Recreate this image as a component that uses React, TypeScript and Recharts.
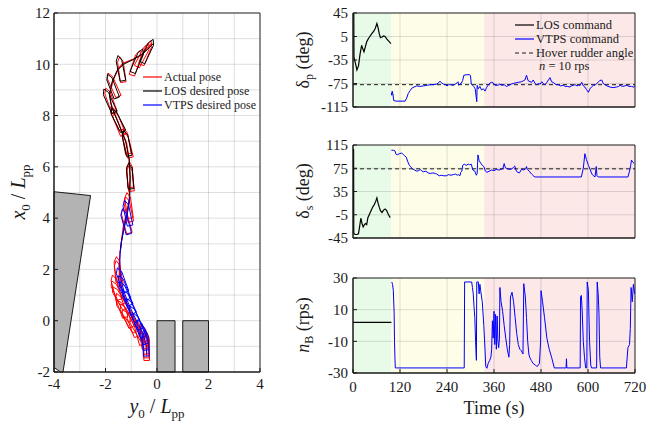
import React from 'react';
import { ComposedChart, Line, XAxis, YAxis, CartesianGrid, ReferenceArea, ReferenceLine } from 'recharts';

type Pt = [number, number];
type Pose = [number, number, number]; // y0/Lpp, x0/Lpp, heading (deg)

const FONT = '"Liberation Serif", "Times New Roman", serif';

// ---------- left: trajectory ----------
const losPoses: Pose[] = [
  [-0.36, 10.52, 25], [-0.75, 10.14, 23], [-1.42, 9.85, -11], [-1.74, 9.15, -21],
  [-1.86, 8.58, -24], [-1.54, 7.83, -27], [-1.18, 6.92, -12], [-1.05, 5.64, -5],
];
const actualPoses: Pose[] = [
  [-0.42, 10.45, 22], [-0.55, 10.35, 28], [-0.82, 10.05, 18], [-1.38, 9.8, -8], [-1.7, 9.2, -24],
  [-1.82, 8.6, -20], [-1.58, 7.9, -25], [-1.5, 7.7, -22], [-1.2, 7.0, -10], [-1.15, 6.85, -14],
  [-1.05, 5.7, -3], [-1.04, 5.55, -6], [-1.1, 4.5, -8], [-1.12, 4.35, -12], [-1.2, 3.9, -15],
  [-1.53, 2.0, -5], [-1.5, 1.85, -10], [-1.6, 1.3, -15], [-1.55, 1.1, -25], [-1.48, 0.9, -30],
  [-1.4, 0.6, -20], [-1.3, 0.4, -35], [-1.2, 0.2, -25], [-1.1, 0.0, -30], [-0.95, -0.15, -20],
  [-0.8, -0.3, -30], [-0.7, -0.45, -15], [-0.55, -0.6, -10], [-0.45, -0.8, -5], [-0.42, -0.95, 0],
  [-0.4, -1.05, 0],
];
const vtpsPoses: Pose[] = [
  [-1.15, 4.2, -12], [-1.22, 3.86, -15], [-1.37, 1.59, -20], [-1.3, 1.3, -22], [-1.24, 1.07, -25],
  [-1.11, 0.74, -25], [-0.98, 0.42, -25], [-0.85, 0.13, -25], [-0.73, -0.17, -22], [-0.59, -0.43, -18],
  [-0.5, -0.65, -10], [-0.44, -0.88, -3],
];
const actualPath: Pt[] = [
  [-0.2, 10.82], [-0.4, 10.6], [-0.6, 10.36], [-0.98, 10.17], [-1.31, 10.04], [-1.5, 9.84], [-1.7, 9.39],
  [-1.83, 8.87], [-1.8, 8.5], [-1.7, 8.22], [-1.44, 7.57], [-1.18, 6.92], [-1.08, 6.27], [-1.05, 5.62],
  [-1.08, 4.71], [-1.18, 4.19], [-1.31, 3.67], [-1.37, 3.15], [-1.44, 2.63], [-1.48, 2.1], [-1.44, 1.59],
  [-1.31, 1.07], [-1.11, 0.55], [-0.92, 0.16], [-0.73, -0.23], [-0.53, -0.62], [-0.4, -1.01], [-0.4, -1.4],
];
const losPath: Pt[] = [
  [-0.15, 10.8], [-0.5, 10.45], [-0.9, 10.2], [-1.3, 10.0], [-1.55, 9.75], [-1.75, 9.3], [-1.85, 8.8],
  [-1.75, 8.3], [-1.5, 7.7], [-1.22, 7.0], [-1.08, 6.3], [-1.04, 5.6], [-1.06, 4.8], [-1.15, 4.2],
  [-1.28, 3.6], [-1.38, 3.1], [-1.43, 2.65],
];
const vtpsPath: Pt[] = [
  [-1.06, 4.8], [-1.15, 4.2], [-1.28, 3.6], [-1.38, 3.1], [-1.43, 2.65], [-1.45, 2.1], [-1.4, 1.6],
  [-1.27, 1.1], [-1.1, 0.65], [-0.92, 0.25], [-0.72, -0.15], [-0.55, -0.5], [-0.44, -0.85], [-0.4, -1.3],
];
const wall: Pt[] = [[-4, 5.03], [-2.58, 4.88], [-3.65, -2], [-3.75, -2], [-4, -1.82]];
const piers = [{ x1: 0, x2: 0.7 }, { x1: 1, x2: 2 }];
const trajTicksX = [-4, -2, 0, 2, 4];
const trajTicksY = [-2, 0, 2, 4, 6, 8, 10, 12];
const trajGridX = [-3, -2, -1, 0, 1, 2, 3];
const trajGridY = [-1, 0, 1, 2, 3, 4, 5, 6, 7, 8, 9, 10, 11];

// hull template: [along, across] in ship lengths
const hull: Pt[] = [[0.5, 0], [0.3, 0.11], [-0.5, 0.11], [-0.5, -0.11], [0.3, -0.11], [0.5, 0]];

// ---------- right: time series ----------
const timeTicks = [0, 120, 240, 360, 480, 600, 720];
const phases = [
  { from: 0, to: 98, fill: '#e8fbe8' },
  { from: 98, to: 335, fill: '#fefee8' },
  { from: 335, to: 720, fill: '#fde8e8' },
];

const losPort: Pt[] = [
  [0, 43], [2, 43], [2.5, -30], [6, -40], [10, -52], [14, -45], [18, -25], [22, -10], [25, -16], [28, -21],
  [31, -14], [35, -4], [39, 1], [43, 5], [48, 10], [53, 14], [57, 19], [61, 27], [64, 20], [67, 10],
  [70, 3], [74, 4], [78, 6], [82, 5], [86, 1], [90, -2], [94, -5], [97, -7],
];
const vtpsPort: Pt[] = [
  [98, -91], [99, -95], [100, -88], [102, -93], [104, -104], [110, -105], [120, -105], [133, -105],
  [137, -100], [141, -92], [146, -87], [150, -83], [156, -81], [163, -79], [170, -80], [180, -79],
  [190, -78], [197, -77], [205, -77], [214, -76], [220, -73], [222, -71], [226, -74], [231, -76],
  [236, -77], [240, -79], [244, -77], [248, -77], [255, -78], [262, -76], [265, -74], [268, -72],
  [270, -78], [273, -76], [276, -75], [280, -70], [283, -61], [290, -60], [298, -60], [300, -62],
  [302, -76], [305, -78], [308, -80], [312, -84], [316, -106], [317, -78], [320, -84], [324, -80],
  [328, -86], [333, -84], [337, -88], [341, -82], [345, -78], [350, -74], [354, -73], [358, -74],
  [363, -78], [370, -78], [375, -76], [380, -78], [386, -77], [392, -80], [398, -78], [404, -76],
  [409, -75], [414, -74], [422, -73], [430, -72], [436, -70], [439, -69], [443, -61], [447, -70],
  [452, -72], [456, -73], [460, -69], [465, -75], [469, -77], [474, -75], [478, -76], [482, -72],
  [486, -75], [490, -77], [495, -73], [499, -69], [503, -65], [507, -72], [511, -73], [516, -76],
  [520, -77], [524, -77], [530, -79], [537, -78], [542, -80], [548, -80], [554, -81], [558, -79],
  [563, -78], [567, -77], [572, -79], [576, -78], [580, -78], [584, -73], [588, -79], [592, -81],
  [596, -85], [601, -90], [605, -84], [609, -81], [614, -78], [618, -78], [622, -75], [626, -73],
  [630, -70], [635, -69], [639, -75], [643, -77], [648, -79], [656, -81], [664, -82], [673, -81],
  [678, -80], [682, -78], [688, -80], [694, -79], [699, -78], [705, -80], [711, -80], [716, -81],
  [720, -80],
];
const losStbd: Pt[] = [
  [0, 107], [1.5, 107], [2, -37], [5, -39], [10, -39], [14, -38], [17, -25], [20, -11], [23, -20],
  [26, -26], [29, -22], [32, -20], [35, -22], [38, -10], [42, -4], [46, 2], [50, 8], [54, 12],
  [58, 18], [61, 24], [64, 15], [67, 8], [70, 2], [74, -1], [78, 3], [82, 5], [86, 2], [90, -4], [95, -10],
];
const vtpsStbd: Pt[] = [
  [98, 106], [103, 106], [107, 105], [110, 99], [113, 98], [118, 100], [124, 101], [128, 99],
  [131, 97], [136, 94], [140, 86], [144, 80], [148, 77], [152, 74], [157, 72], [163, 70], [168, 71],
  [172, 73], [176, 70], [180, 69], [186, 70], [192, 67], [197, 66], [204, 67], [210, 66], [214, 65],
  [220, 62], [226, 63], [232, 62], [238, 62], [244, 64], [250, 63], [256, 64], [262, 65], [266, 63],
  [270, 64], [273, 62], [275, 68], [278, 70], [280, 80], [284, 82], [289, 80], [294, 82], [298, 81],
  [302, 82], [306, 72], [311, 70], [315, 63], [317, 66], [319, 98], [322, 88], [326, 84], [330, 80],
  [334, 78], [338, 70], [342, 68], [348, 70], [354, 72], [360, 71], [366, 73], [372, 72], [378, 73],
  [383, 75], [386, 83], [389, 76], [394, 74], [400, 73], [406, 74], [410, 77], [413, 79], [416, 72],
  [420, 68], [425, 67], [430, 73], [436, 72], [441, 74], [443, 78], [445, 73], [450, 70], [456, 65],
  [462, 61], [465, 60], [583, 60], [588, 75], [592, 100], [596, 90], [601, 80], [606, 72], [610, 65],
  [614, 62], [618, 60], [621, 78], [623, 62], [626, 60], [702, 60], [706, 70], [709, 80], [711, 89],
  [715, 85], [718, 83],
];
const losBow: Pt[] = [[0, 2], [98, 2]];
const vtpsBow: Pt[] = [
  [99, 27.5], [101, 26], [103, 22], [105, 8], [106, -10], [107, -20], [108, -26.8], [284, -26.8],
  [285, 27.5], [303, 27.5], [305, 24], [307, 20], [309, 12], [311, 5], [313, -10], [315, -22],
  [316, 27.5], [320, 27.5], [322, 20], [324, 26], [326, 22], [330, 15], [334, 0], [337, -15],
  [339, -26], [342, -27], [345, -24], [349, -22], [352, -20], [354, -15], [356, 3], [358, -8],
  [360, 9], [362, -12], [364, 7], [366, -15], [368, 6], [370, -10], [372, -14], [374, -8], [375, 24],
  [378, 15], [382, 9], [386, 0], [390, -8], [394, -15], [398, -20], [400, -12], [402, 18], [406, 21],
  [410, 15], [414, 5], [418, -5], [422, -12], [426, -15], [430, -16], [434, -18], [436, 26.4],
  [440, 18], [443, 5], [446, -10], [449, -18], [451, -20], [455, -22], [460, -24], [466, -25],
  [470, -26], [476, -24], [479, -10], [480, 22], [484, 15], [489, 5], [495, -8], [501, -15],
  [507, -20], [514, -26.8], [544, -26.8], [545, -21], [546, -26.8], [580, -26.8], [581, 18],
  [583, 19], [585, 10], [588, -10], [591, -20], [594, -26.8], [597, -26.8], [598, 27.5], [601, 22],
  [604, -10], [607, -25], [609, -26.8], [622, -26.8], [623.5, 27.5], [626, 20], [628, 8], [630, -20],
  [632, -26.8], [698, -26.8], [702, -14], [706, -12], [708, -2], [710, 24], [713, 15], [716, 26],
  [719, 20],
];

const hoverPort = -77;
const hoverStbd = 74;

const tsRows = (pts: Pt[]) => pts.map(([t, y]) => ({ t, y }));
const pathRows = (pts: Pt[]) => pts.map(([h, v]) => ({ h, v }));

function outlines(poses: Pose[]) {
  const rows: { h: number; v: number | null }[] = [];
  poses.forEach(([h, v, psi]) => {
    const r = (psi * Math.PI) / 180;
    const fh = Math.sin(r), fv = Math.cos(r);
    const sh = Math.cos(r), sv = -Math.sin(r);
    hull.forEach(([a, c]) => rows.push({ h: h + a * fh + c * sh, v: v + a * fv + c * sv }));
    rows.push({ h, v: null });
  });
  return rows;
}

const tickStyle = { fill: '#1a1a1a', fontSize: 15, fontFamily: FONT };
const GRID = '#000';
const GRID_OP = 0.13;

const WallShape = (p: any) => {
  const { x, y, width, height } = p;
  const xs = wall.map((w) => w[0]), ys = wall.map((w) => w[1]);
  const x1 = Math.min(...xs), x2 = Math.max(...xs), y1 = Math.min(...ys), y2 = Math.max(...ys);
  const pts = wall
    .map(([a, b]) => `${x + ((a - x1) / (x2 - x1)) * width},${y + ((y2 - b) / (y2 - y1)) * height}`)
    .join(' ');
  return <polygon points={pts} fill="#b3b3b3" stroke="#1a1a1a" strokeWidth={1} />;
};

const Trajectory = () => {
  const xs = wall.map((w) => w[0]), ys = wall.map((w) => w[1]);
  return (
    <ComposedChart width={270} height={425} margin={{ top: 13, right: 10, left: 0, bottom: 0 }}>
      <CartesianGrid stroke={GRID} strokeOpacity={GRID_OP} verticalValues={trajGridX} horizontalValues={trajGridY} />
      <XAxis type="number" dataKey="h" domain={[-4, 4]} ticks={trajTicksX} interval={0} allowDataOverflow height={53}
        tick={tickStyle} tickSize={-4} tickMargin={10} stroke="#1a1a1a" />
      <YAxis type="number" dataKey="v" domain={[-2, 12]} ticks={trajTicksY} interval={0} allowDataOverflow width={54}
        tick={tickStyle} tickSize={-4} tickMargin={8} stroke="#1a1a1a" />
      <ReferenceArea x1={Math.min(...xs)} x2={Math.max(...xs)} y1={Math.min(...ys)} y2={Math.max(...ys)}
        shape={WallShape} />
      {piers.map((p, i) => (
        <ReferenceArea key={i} x1={p.x1} x2={p.x2} y1={-2} y2={0} fill="#b3b3b3" fillOpacity={1}
          stroke="#1a1a1a" strokeOpacity={1} />
      ))}
      <Line data={outlines(actualPoses)} dataKey="v" stroke="#ff0000" strokeWidth={1} dot={false}
        isAnimationActive={false} connectNulls={false} />
      <Line data={pathRows(actualPath)} dataKey="v" stroke="#ff0000" strokeWidth={1.2} dot={false}
        isAnimationActive={false} />
      <Line data={outlines(losPoses)} dataKey="v" stroke="#000" strokeWidth={1} dot={false}
        isAnimationActive={false} connectNulls={false} />
      <Line data={pathRows(losPath)} dataKey="v" stroke="#000" strokeWidth={1} dot={false}
        isAnimationActive={false} />
      <Line data={outlines(vtpsPoses)} dataKey="v" stroke="#0000ff" strokeWidth={1} dot={false}
        isAnimationActive={false} connectNulls={false} />
      <Line data={pathRows(vtpsPath)} dataKey="v" stroke="#0000ff" strokeWidth={1} dot={false}
        isAnimationActive={false} />
      <ReferenceArea x1={-4} x2={4} y1={-2} y2={12} fill="none" stroke="#1a1a1a" strokeOpacity={1} />
    </ComposedChart>
  );
};

type PanelProps = {
  top: number; height: number; domain: [number, number]; ticks: number[]; showTime: boolean;
  los: Pt[]; vtps: Pt[]; hover?: number;
};

const Panel = ({ top, height, domain, ticks, showTime, los, vtps, hover }: PanelProps) => (
  <div style={{ position: 'absolute', left: 300, top }}>
    <ComposedChart width={360} height={height} margin={{ top: 10, right: 25, left: 0, bottom: 0 }}>
      {phases.map((p, i) => (
        <ReferenceArea key={i} x1={p.from} x2={p.to} y1={domain[0]} y2={domain[1]} fill={p.fill}
          fillOpacity={1} stroke="none" />
      ))}
      {timeTicks.slice(1, -1).map((t) => (
        <ReferenceLine key={'v' + t} x={t} stroke={GRID} strokeOpacity={GRID_OP} />
      ))}
      {ticks.slice(1, -1).map((v) => (
        <ReferenceLine key={'h' + v} y={v} stroke={GRID} strokeOpacity={GRID_OP} />
      ))}
      <XAxis type="number" dataKey="t" domain={[0, 720]} ticks={timeTicks} interval={0} allowDataOverflow
        height={showTime ? 30 : 10} tick={showTime ? tickStyle : false} tickSize={-4} tickMargin={12}
        stroke="#1a1a1a" />
      <YAxis type="number" dataKey="y" domain={domain} ticks={ticks} interval={0} allowDataOverflow width={53}
        tick={tickStyle} tickSize={-4} tickMargin={9} stroke="#1a1a1a" />
      {hover !== undefined && (
        <ReferenceLine y={hover} stroke="#1a1a1a" strokeDasharray="4 3" strokeWidth={1} />
      )}
      <Line data={tsRows(los)} dataKey="y" stroke="#000" strokeWidth={1.2} dot={false} isAnimationActive={false} />
      <Line data={tsRows(vtps)} dataKey="y" stroke="#0000ff" strokeWidth={1} dot={false} isAnimationActive={false} />
      <ReferenceArea x1={0} x2={720} y1={domain[0]} y2={domain[1]} fill="none" stroke="#1a1a1a" strokeOpacity={1} />
    </ComposedChart>
  </div>
);

const abs = (x: number, y: number, rotate = false): React.CSSProperties => ({
  position: 'absolute', left: x, top: y, whiteSpace: 'nowrap',
  transform: `translate(-50%, -50%)${rotate ? ' rotate(-90deg)' : ''}`,
});

const LegendRow = ({ x, y, color, dash, label }: { x: number; y: number; color: string; dash?: boolean; label: React.ReactNode }) => (
  <div style={{ position: 'absolute', left: x, top: y - 8, height: 16, display: 'flex', alignItems: 'center', whiteSpace: 'nowrap' }}>
    <svg width={19} height={4} style={{ marginRight: 2 }}>
      <line x1={0} y1={2} x2={19} y2={2} stroke={color} strokeWidth={1.2} strokeDasharray={dash ? '4 3' : undefined} />
    </svg>
    <span>{label}</span>
  </div>
);

export default function App() {
  return (
    <div style={{ position: 'absolute', left: 0, top: 0, width: 669, height: 425, background: '#fff', fontFamily: FONT, color: '#1a1a1a' }}>
      <div style={{ position: 'absolute', left: 0, top: 0 }}>
        <Trajectory />
      </div>
      <div style={{ ...abs(20, 192, true), fontSize: 20 }}>
        <i>x</i><sub style={{ fontSize: 13 }}>0</sub> / <i>L</i><sub style={{ fontSize: 13 }}>pp</sub>
      </div>
      <div style={{ ...abs(157, 408), fontSize: 20 }}>
        <i>y</i><sub style={{ fontSize: 13 }}>0</sub> / <i>L</i><sub style={{ fontSize: 13 }}>pp</sub>
      </div>
      <div style={{ fontSize: 12 }}>
        <LegendRow x={143} y={77} color="#ff0000" label="Actual pose" />
        <LegendRow x={143} y={91} color="#000" label="LOS desired pose" />
        <LegendRow x={143} y={105} color="#0000ff" label="VTPS desired pose" />
      </div>

      <Panel top={3} height={114} domain={[-115, 45]} ticks={[-115, -75, -35, 5, 45]} showTime={false}
        los={losPort} vtps={vtpsPort} hover={hoverPort} />
      <Panel top={135} height={113} domain={[-45, 115]} ticks={[-45, -5, 35, 75, 115]} showTime={false}
        los={losStbd} vtps={vtpsStbd} hover={hoverStbd} />
      <Panel top={268} height={135} domain={[-30, 30]} ticks={[-30, -10, 10, 30]} showTime
        los={losBow} vtps={vtpsBow} />

      <div style={{ fontSize: 12.5 }}>
        <LegendRow x={515} y={25} color="#000" label="LOS command" />
        <LegendRow x={515} y={39} color="#0000ff" label="VTPS command" />
        <LegendRow x={515} y={53} color="#1a1a1a" dash label="Hover rudder angle" />
        <div style={{ position: 'absolute', left: 539, top: 59, whiteSpace: 'nowrap' }}>
          <i>n</i> = 10 rps
        </div>
      </div>

      <div style={{ ...abs(305, 60, true), fontSize: 18 }}>
        δ<sub style={{ fontSize: 12 }}>p</sub> (deg)
      </div>
      <div style={{ ...abs(305, 191, true), fontSize: 18 }}>
        δ<sub style={{ fontSize: 12 }}>s</sub> (deg)
      </div>
      <div style={{ ...abs(305, 325, true), fontSize: 18 }}>
        <i>n</i><sub style={{ fontSize: 12 }}>B</sub> (rps)
      </div>
      <div style={{ ...abs(494, 408), fontSize: 18 }}>Time (s)</div>
    </div>
  );
}
